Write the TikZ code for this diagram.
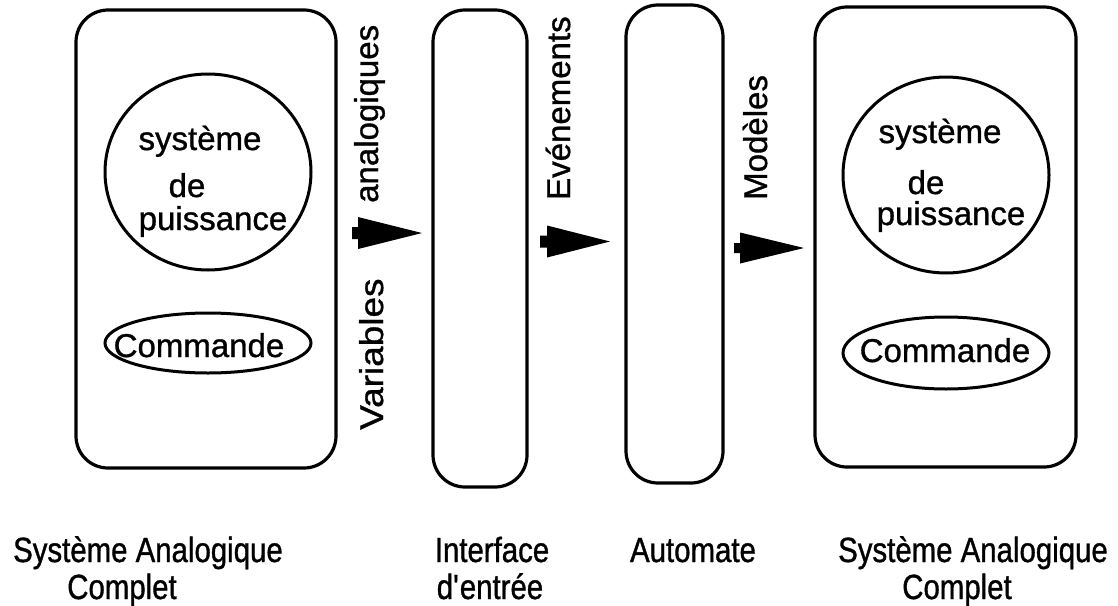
\documentclass[tikz,border=0pt]{standalone}
\usepackage{fontspec}
\setmainfont{Liberation Sans}[FakeBold=1]
\usetikzlibrary{shapes.geometric}
\begin{document}
\begin{tikzpicture}[x=1pt,y=-1pt,
  every node/.style={font=\fontsize{33}{40}\selectfont, inner sep=0pt},
  frame/.style={draw, line width=3.2pt, rounded corners=32pt, rectangle},
  oval/.style={draw, line width=3pt, ellipse},
  lbl/.style={anchor=base},
  caption/.style={anchor=base, font=\fontsize{35}{42}\selectfont\addfontfeature{FakeStretch=0.84}},
  vlbl/.style={rotate=90, anchor=base west}]
\useasboundingbox (0,0) rectangle (1118,605);

% boxes
\node[frame, minimum width=260pt, minimum height=458pt] (b1) at (206,239) {};
\node[frame, minimum width=94pt, minimum height=477pt] (b2) at (480,248.5) {};
\node[frame, minimum width=97pt, minimum height=478pt] (b3) at (674.5,244) {};
\node[frame, minimum width=261pt, minimum height=460pt] (b4) at (945.5,237) {};

% inner shapes box 1
\node[oval, minimum width=206pt, minimum height=196pt] (c1) at (208,172) {};
\node[oval, minimum width=206pt, minimum height=60pt] (e1) at (208,343) {};
\node[lbl] (t1a) at (200,150) {système};
\node[lbl] (t1b) at (187,197) {de};
\node[lbl] (t1c) at (213,230) {puissance};
\node[lbl] (t1d) at (199,357) {Commande};

% inner shapes box 4
\node[oval, minimum width=206pt, minimum height=196pt] (c4) at (946,175) {};
\node[oval, minimum width=206pt, minimum height=72pt] (e4) at (946,353) {};
\node[lbl] (t4a) at (940,143) {système};
\node[lbl] (t4b) at (926,194) {de};
\node[lbl] (t4c) at (951,225) {puissance};
\node[lbl] (t4d) at (945,362) {Commande};

% vertical labels
\node[vlbl] (v1) at (378,203) {analogiques};
\node[vlbl] (v2) at (383,430) {\addfontfeature{FakeStretch=1.12}Variables};
\node[vlbl] (v3) at (570,200) {Evénements};
\node[vlbl] (v4) at (767,200) {Modèles};

% arrows
\coordinate (a1s) at (352,233);
\coordinate (a1e) at (422,233);
\coordinate (a2s) at (540,241.5);
\coordinate (a2e) at (610,241.5);
\coordinate (a3s) at (734,248);
\coordinate (a3e) at (804,248);
\fill (a1s) ++(0,-6) -- ++(6,0) -- ++(0,-10) -- (a1e) -- ++(-64,16) -- ++(0,-10) -- ++(-6,0) -- cycle;
\fill (a2s) ++(0,-6) -- ++(7,0) -- ++(0,-10) -- (a2e) -- ++(-63,16) -- ++(0,-10) -- ++(-7,0) -- cycle;
\fill (a3s) ++(0,-5) -- ++(6,0) -- ++(0,-10.5) -- (a3e) -- ++(-64,15.5) -- ++(0,-10.5) -- ++(-6,0) -- cycle;

% bottom labels
\node[caption] (l1a) at (148,562) {Système Analogique};
\node[caption] (l1b) at (122,599) {Complet};
\node[caption] (l2a) at (492,562) {Interface};
\node[caption] (l2b) at (490,599) {d\textquotesingle entrée};
\node[caption] (l3a) at (693,562) {Automate};
\node[caption] (l4a) at (973,562) {Système Analogique};
\node[caption] (l4b) at (957,599) {Complet};
\end{tikzpicture}
\end{document}
